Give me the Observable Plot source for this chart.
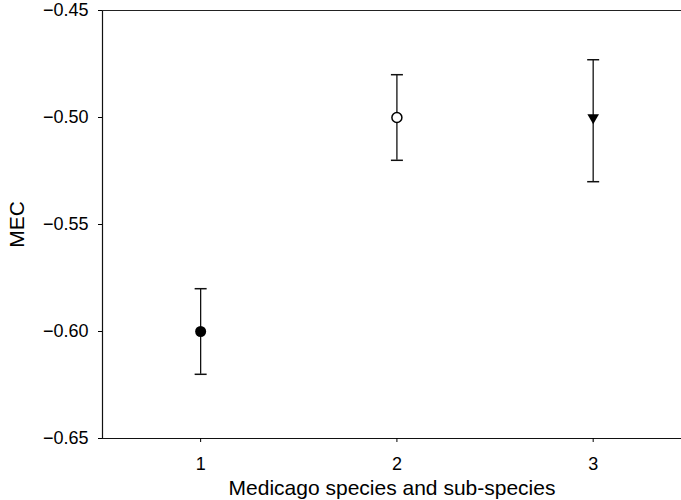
<!DOCTYPE html>
<html>
<head>
<meta charset="utf-8">
<script src="https://cdn.jsdelivr.net/npm/d3@7"></script>
<script src="https://cdn.jsdelivr.net/npm/@observablehq/plot@0.6"></script>
<style>
  html, body { margin: 0; padding: 0; background: #fff; }
  #chart svg { display: block; }
</style>
</head>
<body>
<div id="chart"></div>
<script>
// Data
const groups = [1, 2, 3];
const means = [-0.600, -0.500, -0.500];
const lows = [-0.620, -0.520, -0.530];
const highs = [-0.580, -0.480, -0.473];
const markerKinds = ["filled", "open", "triangle"];
const xTicks = [1, 2, 3];
const yTicks = [-0.45, -0.50, -0.55, -0.60, -0.65];
const xLabel = "Medicago species and sub-species";
const yLabel = "MEC";

const rows = groups.map((g, i) => ({g, mean: means[i], low: lows[i], high: highs[i], kind: markerKinds[i]}));
const caps = rows.flatMap(d => [{g: d.g, v: d.low}, {g: d.g, v: d.high}]);

const hline = {
  draw(context, size) {
    const w = Math.sqrt(size / Math.PI);
    context.moveTo(-w, 0);
    context.lineTo(w, 0);
  }
};

const font = "'Liberation Sans', Arial, Helvetica, sans-serif";

const chart = Plot.plot({
  width: 681,
  height: 500,
  marginLeft: 102,
  marginRight: 0,
  marginTop: 10,
  marginBottom: 62,
  style: {fontFamily: font, fontSize: "18px", color: "#000", background: "#fff"},
  x: {domain: [0.5, 3.45]},
  y: {domain: [-0.65, -0.45]},
  marks: [
    Plot.ruleX([0.5], {stroke: "#111", strokeWidth: 1.2}),
    Plot.ruleY([-0.65], {stroke: "#111", strokeWidth: 1.2}),
    Plot.ruleY([-0.45], {stroke: "#222", strokeWidth: 1}),
    Plot.axisX({ticks: xTicks, tickSize: 4, tickPadding: 15, tickFormat: d => String(d),
      label: null, fontSize: 18}),
    Plot.axisY({ticks: yTicks, tickSize: 4, tickPadding: 10, tickFormat: d3.format(".2f"),
      label: null, fontSize: 18}),
    Plot.axisX({ticks: [], tickSize: 0, label: xLabel, labelAnchor: "center", labelOffset: 56, labelArrow: false, fontSize: 21}),
    Plot.axisY({ticks: [], tickSize: 0, label: yLabel, labelAnchor: "center", labelOffset: 93, labelArrow: false, fontSize: 21}),
    Plot.ruleX(rows, {x: "g", y1: "low", y2: "high", stroke: "#111", strokeWidth: 1.3}),
    Plot.dot(caps, {x: "g", y: "v", symbol: hline, r: 6, stroke: "#111", fill: "none", strokeWidth: 1.5}),
    Plot.dot(rows.filter(d => d.kind === "filled"), {x: "g", y: "mean", r: 5.5, fill: "#000", stroke: "none"}),
    Plot.dot(rows.filter(d => d.kind === "open"), {x: "g", y: "mean", r: 5, fill: "#fff", stroke: "#000", strokeWidth: 1.5}),
    Plot.dot(rows.filter(d => d.kind === "triangle"), {x: "g", y: "mean", symbol: "triangle", rotate: 180, r: 4.3, fill: "#000", stroke: "none"})
  ]
});

document.getElementById("chart").appendChild(chart);
</script>
</body>
</html>
